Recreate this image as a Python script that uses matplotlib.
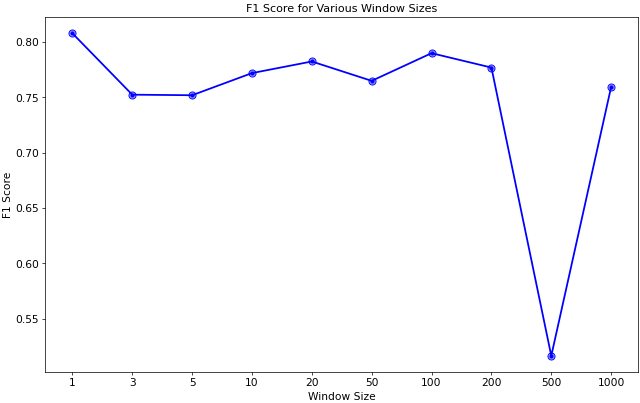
import matplotlib
matplotlib.use("Agg")
import matplotlib.pyplot as plt

window_sizes = ["1", "3", "5", "10", "20", "50", "100", "200", "500", "1000"]
f1_scores = [0.808, 0.7525, 0.752, 0.772, 0.7825, 0.765, 0.790, 0.777, 0.5165, 0.7595]

plt.rcParams["font.size"] = 12

fig, ax = plt.subplots(figsize=(10, 6.3), dpi=64)
x = range(len(window_sizes))
ax.plot(x, f1_scores, color="blue", marker="o", markersize=8,
        markerfacecolor=(0, 0, 1, 0.4), markeredgecolor="blue", linewidth=2)
ax.plot(x, f1_scores, linestyle="none", marker="o", markersize=3.5, color="blue")
ax.set_xticks(list(x))
ax.set_xticklabels(window_sizes)
ax.set_title("F1 Score for Various Window Sizes", fontsize=12.5)
ax.set_xlabel("Window Size")
ax.set_ylabel("F1 Score", labelpad=3)
fig.subplots_adjust(left=0.071, right=0.997, top=0.957, bottom=0.077)
fig.savefig("out.png", dpi=64)
